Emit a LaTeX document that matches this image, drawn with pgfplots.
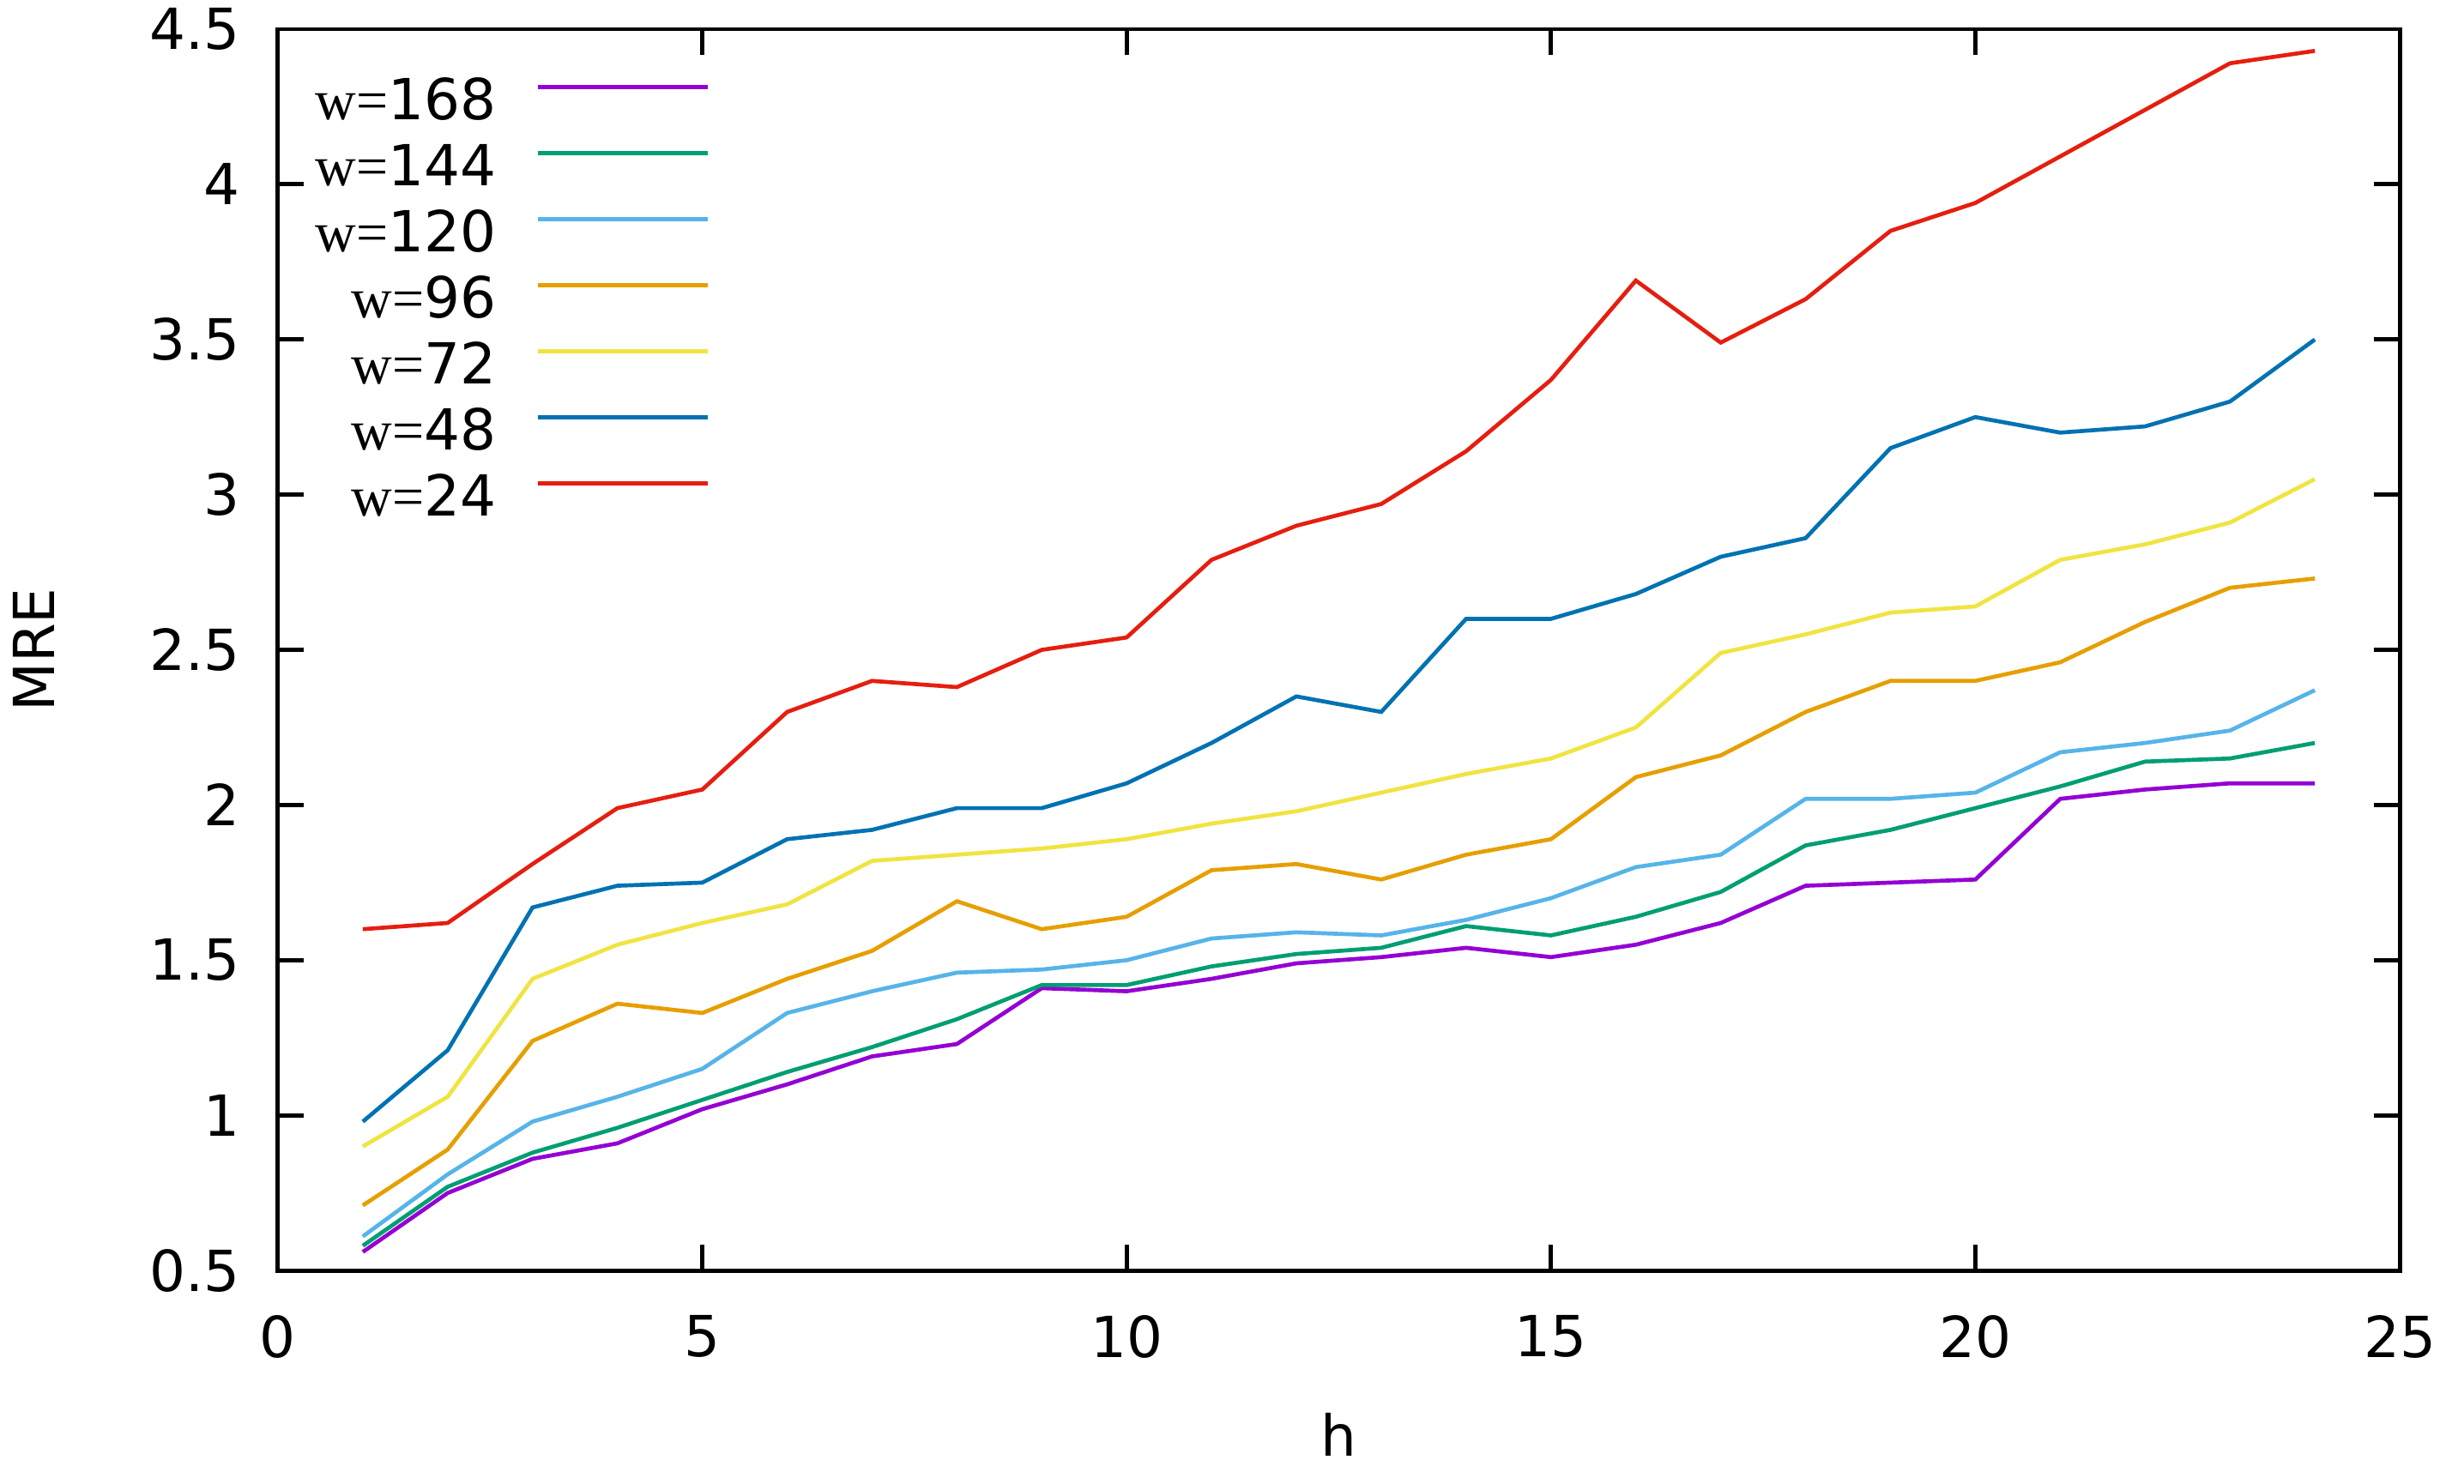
\documentclass[12pt,border=0pt]{standalone}
\usepackage{fontspec}
\setmainfont{DejaVu Sans}
\newfontfamily\wserif{Liberation Serif}
\usepackage{pgfplots}
\pgfplotsset{compat=1.18}
\definecolor{c168}{RGB}{148,0,211}
\definecolor{c144}{RGB}{0,158,115}
\definecolor{c120}{RGB}{86,180,233}
\definecolor{c96}{RGB}{230,159,0}
\definecolor{c72}{RGB}{240,228,66}
\definecolor{c48}{RGB}{0,114,178}
\definecolor{c24}{RGB}{229,30,16}
\begin{document}
\begin{tikzpicture}
\begin{axis}[
  scale only axis, clip=false,
  width=449.6pt, height=263.1pt,
  xmin=0, xmax=25, ymin=0.5, ymax=4.5,
  xtick={0,5,10,15,20,25},
  ytick={0.5,1,1.5,2,2.5,3,3.5,4,4.5},
  /pgf/number format/assume math mode=true,
  tick align=inside,
  major tick length=5.5pt,
  axis line style={line width=0.9pt},
  every tick/.style={black, line width=0.9pt},
  xticklabel style={inner sep=0pt, yshift=-9.3pt},
  yticklabel style={inner sep=0pt, xshift=-7.9pt},
  xlabel={h}, ylabel={MRE},
  every axis x label/.style={at={(axis description cs:0.500,-0.132)}, anchor=center, inner sep=0pt},
  every axis y label/.style={at={(axis description cs:-0.1152,0.5)}, rotate=90, anchor=center, inner sep=0pt},
  legend plot pos=right,
  legend cell align=right,
  legend image code/.code={\draw[#1] (0pt,3.2pt) -- (36pt,3.2pt);},
  legend style={at={(axis description cs:0.0131,0.968)}, anchor=north west, draw=none, fill=none,
    inner sep=0pt, outer sep=0pt,
    nodes={text height=8.8pt, text depth=1.2pt, inner sep=2pt},
    /tikz/every odd column/.style={column sep=6.4pt}},
  every axis plot/.append style={line width=0.85pt},
]
\addplot[c168] coordinates {(1,0.56)(2,0.75)(3,0.86)(4,0.91)(5,1.02)(6,1.10)(7,1.19)(8,1.23)(9,1.41)(10,1.40)(11,1.44)(12,1.49)(13,1.51)(14,1.54)(15,1.51)(16,1.55)(17,1.62)(18,1.74)(19,1.75)(20,1.76)(21,2.02)(22,2.05)(23,2.07)(24,2.07)};
\addlegendentry{{\wserif w=}168}
\addplot[c144] coordinates {(1,0.58)(2,0.77)(3,0.88)(4,0.96)(5,1.05)(6,1.14)(7,1.22)(8,1.31)(9,1.42)(10,1.42)(11,1.48)(12,1.52)(13,1.54)(14,1.61)(15,1.58)(16,1.64)(17,1.72)(18,1.87)(19,1.92)(20,1.99)(21,2.06)(22,2.14)(23,2.15)(24,2.20)};
\addlegendentry{{\wserif w=}144}
\addplot[c120] coordinates {(1,0.61)(2,0.81)(3,0.98)(4,1.06)(5,1.15)(6,1.33)(7,1.40)(8,1.46)(9,1.47)(10,1.50)(11,1.57)(12,1.59)(13,1.58)(14,1.63)(15,1.70)(16,1.80)(17,1.84)(18,2.02)(19,2.02)(20,2.04)(21,2.17)(22,2.20)(23,2.24)(24,2.37)};
\addlegendentry{{\wserif w=}120}
\addplot[c96] coordinates {(1,0.71)(2,0.89)(3,1.24)(4,1.36)(5,1.33)(6,1.44)(7,1.53)(8,1.69)(9,1.60)(10,1.64)(11,1.79)(12,1.81)(13,1.76)(14,1.84)(15,1.89)(16,2.09)(17,2.16)(18,2.30)(19,2.40)(20,2.40)(21,2.46)(22,2.59)(23,2.70)(24,2.73)};
\addlegendentry{{\wserif w=}96}
\addplot[c72] coordinates {(1,0.90)(2,1.06)(3,1.44)(4,1.55)(5,1.62)(6,1.68)(7,1.82)(8,1.84)(9,1.86)(10,1.89)(11,1.94)(12,1.98)(13,2.04)(14,2.10)(15,2.15)(16,2.25)(17,2.49)(18,2.55)(19,2.62)(20,2.64)(21,2.79)(22,2.84)(23,2.91)(24,3.05)};
\addlegendentry{{\wserif w=}72}
\addplot[c48] coordinates {(1,0.98)(2,1.21)(3,1.67)(4,1.74)(5,1.75)(6,1.89)(7,1.92)(8,1.99)(9,1.99)(10,2.07)(11,2.20)(12,2.35)(13,2.30)(14,2.60)(15,2.60)(16,2.68)(17,2.80)(18,2.86)(19,3.15)(20,3.25)(21,3.20)(22,3.22)(23,3.30)(24,3.50)};
\addlegendentry{{\wserif w=}48}
\addplot[c24] coordinates {(1,1.60)(2,1.62)(3,1.81)(4,1.99)(5,2.05)(6,2.30)(7,2.40)(8,2.38)(9,2.50)(10,2.54)(11,2.79)(12,2.90)(13,2.97)(14,3.14)(15,3.37)(16,3.69)(17,3.49)(18,3.63)(19,3.85)(20,3.94)(21,4.09)(22,4.24)(23,4.39)(24,4.43)};
\addlegendentry{{\wserif w=}24}
\path (axis description cs:-0.1310,-0.1714) rectangle (axis description cs:1.0303,1.0235);
\end{axis}
\end{tikzpicture}
\end{document}
